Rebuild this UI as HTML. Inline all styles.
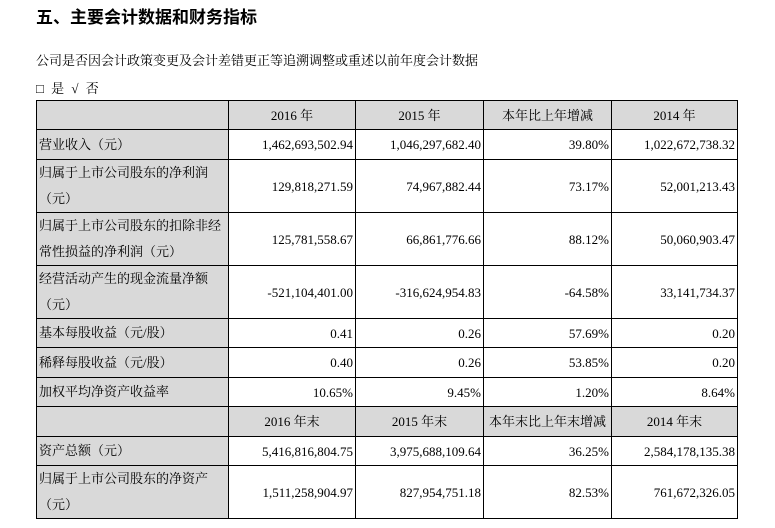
<!DOCTYPE html>
<html><head><meta charset="utf-8"><style>
body{margin:0;width:775px;height:528px;background:#fff;font-family:"Liberation Serif","Noto Serif CJK SC",serif;color:#000;position:relative;overflow:hidden}
.t{position:absolute;left:36px;top:3px;font-size:17px;font-weight:bold;font-family:"Liberation Sans","Noto Sans CJK SC",sans-serif}
.p1{position:absolute;left:36px;top:50px;font-size:13px}
.p2{position:absolute;left:36px;top:78px;font-size:13px;word-spacing:4px}
table{position:absolute;left:36px;top:100px;border-collapse:collapse;table-layout:fixed;font-size:13px}
td{border:1.3px solid #000;padding:0 2px;text-align:right;line-height:25px;white-space:nowrap}
td:first-child{background:#d9d9d9;text-align:left;white-space:normal;line-height:26px;padding:0 2px}
tr.h td{background:#d9d9d9;text-align:center}
</style></head><body>
<div class="t">五、主要会计数据和财务指标</div>
<div class="p1">公司是否因会计政策变更及会计差错更正等追溯调整或重述以前年度会计数据</div>
<div class="p2">□ 是 √ 否</div>
<table>
<colgroup><col style="width:192px"><col style="width:127px"><col style="width:128px"><col style="width:128px"><col style="width:126px"></colgroup>
<tr class="h" style="height:29px"><td></td><td>2016 年</td><td>2015 年</td><td>本年比上年增减</td><td>2014 年</td></tr>
<tr style="height:30px"><td>营业收入（元）</td><td>1,462,693,502.94</td><td>1,046,297,682.40</td><td>39.80%</td><td>1,022,672,738.32</td></tr>
<tr style="height:52px"><td>归属于上市公司股东的净利润（元）</td><td>129,818,271.59</td><td>74,967,882.44</td><td>73.17%</td><td>52,001,213.43</td></tr>
<tr style="height:52px"><td>归属于上市公司股东的扣除非经常性损益的净利润（元）</td><td>125,781,558.67</td><td>66,861,776.66</td><td>88.12%</td><td>50,060,903.47</td></tr>
<tr style="height:53px"><td>经营活动产生的现金流量净额（元）</td><td>-521,104,401.00</td><td>-316,624,954.83</td><td>-64.58%</td><td>33,141,734.37</td></tr>
<tr style="height:29px"><td>基本每股收益（元/股）</td><td>0.41</td><td>0.26</td><td>57.69%</td><td>0.20</td></tr>
<tr style="height:30px"><td>稀释每股收益（元/股）</td><td>0.40</td><td>0.26</td><td>53.85%</td><td>0.20</td></tr>
<tr style="height:29px"><td>加权平均净资产收益率</td><td>10.65%</td><td>9.45%</td><td>1.20%</td><td>8.64%</td></tr>
<tr class="h" style="height:30px"><td></td><td>2016 年末</td><td>2015 年末</td><td>本年末比上年末增减</td><td>2014 年末</td></tr>
<tr style="height:29px"><td>资产总额（元）</td><td>5,416,816,804.75</td><td>3,975,688,109.64</td><td>36.25%</td><td>2,584,178,135.38</td></tr>
<tr style="height:52px"><td>归属于上市公司股东的净资产（元）</td><td>1,511,258,904.97</td><td>827,954,751.18</td><td>82.53%</td><td>761,672,326.05</td></tr>
</table>
</body></html>
